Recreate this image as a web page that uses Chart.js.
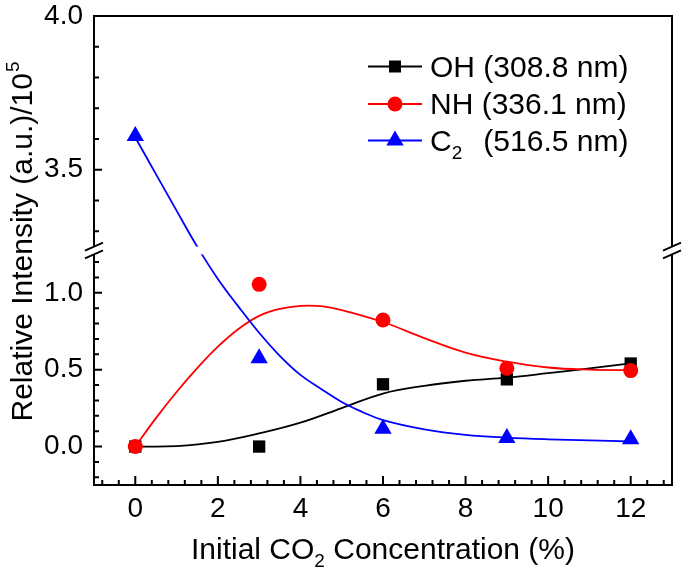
<!DOCTYPE html>
<html>
<head>
<meta charset="utf-8">
<script src="https://cdn.jsdelivr.net/npm/chart.js@4.4.1/dist/chart.umd.min.js"></script>
<style>
html,body{margin:0;padding:0;background:#fff;}
canvas{display:block;}
</style>
</head>
<body>
<canvas id="c" width="685" height="574"></canvas>
<script>
// ---- measured points ----
const concentrations = [0, 3, 6, 9, 12];
const ohValues = [0.00, 0.00, 0.405, 0.437, 0.540];
const nhValues = [0.00, 1.055, 0.823, 0.509, 0.494];
const c2Values = [3.61, 0.574, 0.115, 0.055, 0.048];

// ---- fitted curves ----
const ohCurveX = [0, 1, 2, 3, 4, 5, 6, 7, 8, 9, 10, 11, 12];
const ohCurve  = [0, 0.003, 0.030, 0.085, 0.155, 0.250, 0.345, 0.395, 0.428, 0.448, 0.477, 0.508, 0.541];
const nhCurveX = [0, 0.5, 1, 1.5, 2, 2.5, 3, 3.5, 4, 4.5, 5, 6, 7, 8, 9, 10, 11, 12];
const nhCurve  = [0, 0.185, 0.355, 0.510, 0.650, 0.765, 0.850, 0.895, 0.915, 0.913, 0.888, 0.810, 0.705, 0.611, 0.552, 0.514, 0.500, 0.497];
const c2CurveX = [0, 0.5, 1, 1.5, 2, 2.5, 3, 3.5, 4, 4.5, 5, 5.5, 6, 7, 8, 9, 10, 11, 12];
const c2Curve  = [3.605, 3.486, 3.367, 3.25, 1.09, 0.91, 0.74, 0.59, 0.466, 0.375, 0.29, 0.225, 0.172, 0.112, 0.076, 0.058, 0.047, 0.040, 0.033];

// ---- axes ----
const xTicks = [0, 2, 4, 6, 8, 10, 12];
const xTickLabels = ['0', '2', '4', '6', '8', '10', '12'];
const yTicks = [0.0, 0.5, 1.0, 3.5, 4.0];
const yTickLabels = ['0.0', '0.5', '1.0', '3.5', '4.0'];
const xMinorTicks = [-0.8, -0.4, 0.4, 0.8, 1.2, 1.6, 2.4, 2.8, 3.2, 3.6, 4.4, 4.8, 5.2, 5.6, 6.4, 6.8, 7.2, 7.6, 8.4, 8.8, 9.2, 9.6, 10.4, 10.8, 11.2, 11.6, 12.4, 12.8];
const yMinorTicks = [-0.2, -0.1, 0.1, 0.2, 0.3, 0.4, 0.6, 0.7, 0.8, 0.9, 1.1, 1.2, 3.3, 3.4, 3.6, 3.7, 3.8, 3.9];
const seriesNames = ['OH', 'NH', 'C'];
const seriesWaves = ['(308.8 nm)', '(336.1 nm)', '(516.5 nm)'];

// axis break
const BRK_LOW = 1.25, BRK_HIGH = 3.25, BRK_GAP = 0.05, BRK_FACTOR = 2;

const FONT = "'Liberation Sans', Arial, Helvetica, sans-serif";

class BrokenLinearScale extends Chart.LinearScale {
  toDisplay(v) {
    if (v <= BRK_LOW) return v;
    if (v >= BRK_HIGH) return BRK_LOW + BRK_GAP + (v - BRK_HIGH) * BRK_FACTOR;
    return BRK_LOW + (v - BRK_LOW) / (BRK_HIGH - BRK_LOW) * BRK_GAP;
  }
  fromDisplay(d) {
    if (d <= BRK_LOW) return d;
    if (d >= BRK_LOW + BRK_GAP) return BRK_HIGH + (d - BRK_LOW - BRK_GAP) / BRK_FACTOR;
    return BRK_LOW + (d - BRK_LOW) / BRK_GAP * (BRK_HIGH - BRK_LOW);
  }
  getPixelForValue(value) {
    if (value === null || value === undefined || Number.isNaN(value)) return NaN;
    const d0 = this.toDisplay(this.min), d1 = this.toDisplay(this.max);
    return this.getPixelForDecimal((this.toDisplay(value) - d0) / (d1 - d0));
  }
  getValueForPixel(pixel) {
    const d0 = this.toDisplay(this.min), d1 = this.toDisplay(this.max);
    return this.fromDisplay(d0 + this.getDecimalForPixel(pixel) * (d1 - d0));
  }
}
BrokenLinearScale.id = 'brokenLinear';
BrokenLinearScale.defaults = Chart.LinearScale.defaults;
Chart.register(BrokenLinearScale);

const pts = (xs, ys) => xs.map((x, i) => ({ x: x, y: ys[i] }));

const decor = {
  id: 'decor',
  beforeDraw(chart) {
    const ctx = chart.ctx;
    ctx.save();
    ctx.fillStyle = '#fff';
    ctx.fillRect(0, 0, chart.width, chart.height);
    ctx.restore();
  },
  afterDatasetsDraw(chart) {
    const { ctx, chartArea: a, scales } = chart;
    const x = scales.x, y = scales.y;
    const yHi = y.getPixelForValue(BRK_HIGH), yLo = y.getPixelForValue(BRK_LOW);
    ctx.save();
    ctx.fillStyle = '#fff';
    ctx.fillRect(a.left + 1, yHi, a.right - a.left - 2, yLo - yHi);
    ctx.strokeStyle = '#000';
    ctx.lineWidth = 2;
    ctx.lineJoin = 'miter';
    ctx.lineCap = 'butt';
    ctx.beginPath();
    ctx.moveTo(a.left, yHi); ctx.lineTo(a.left, a.top); ctx.lineTo(a.right, a.top); ctx.lineTo(a.right, yHi);
    ctx.moveTo(a.left, yLo); ctx.lineTo(a.left, a.bottom); ctx.lineTo(a.right, a.bottom); ctx.lineTo(a.right, yLo);
    ctx.stroke();
    ctx.beginPath();
    xTicks.forEach(v => { const px = x.getPixelForValue(v); ctx.moveTo(px, a.bottom); ctx.lineTo(px, a.bottom - 9); });
    xMinorTicks.forEach(v => { const px = x.getPixelForValue(v); ctx.moveTo(px, a.bottom); ctx.lineTo(px, a.bottom - 5); });
    yTicks.forEach(v => { const py = y.getPixelForValue(v); ctx.moveTo(a.left, py); ctx.lineTo(a.left + 8, py); });
    yMinorTicks.forEach(v => { const py = y.getPixelForValue(v); ctx.moveTo(a.left, py); ctx.lineTo(a.left + 5, py); });
    ctx.stroke();
    ctx.lineWidth = 1.8;
    ctx.beginPath();
    [a.left, a.right].forEach(ex => {
      [yHi, yLo].forEach(ey => { ctx.moveTo(ex - 9, ey + 4); ctx.lineTo(ex + 9, ey - 4); });
    });
    ctx.stroke();
    ctx.restore();
  },
  afterDraw(chart) {
    const { ctx, chartArea: a } = chart;
    ctx.save();
    ctx.fillStyle = '#000';
    ctx.textBaseline = 'alphabetic';
    ctx.textAlign = 'left';
    const big = '30px ' + FONT, small = '19px ' + FONT;
    // x title
    const p1 = 'Initial CO', p2 = '2', p3 = ' Concentration (%)';
    ctx.font = big; const w1 = ctx.measureText(p1).width, w3 = ctx.measureText(p3).width;
    ctx.font = small; const w2 = ctx.measureText(p2).width;
    const sx = (a.left + a.right) / 2 - (w1 + w2 + w3) / 2;
    const by = 559;
    ctx.font = big; ctx.fillText(p1, sx, by);
    ctx.font = small; ctx.fillText(p2, sx + w1, by + 8);
    ctx.font = big; ctx.fillText(p3, sx + w1 + w2, by);
    // y title
    const q1 = 'Relative Intensity (a.u.)/10', q2 = '5';
    ctx.font = big; const v1 = ctx.measureText(q1).width;
    ctx.font = small; const v2 = ctx.measureText(q2).width;
    ctx.save();
    ctx.translate(32, 242);
    ctx.rotate(-Math.PI / 2);
    const st = -(v1 + v2) / 2;
    ctx.font = big; ctx.fillText(q1, st, 0);
    ctx.font = small; ctx.fillText(q2, st + v1 + 1, -13);
    ctx.restore();
    // legend
    const colors = ['#000000', '#ff0000', '#0000ff'];
    const rowY = [66.5, 104, 140.5];
    const baseY = [76.5, 114, 150.5];
    for (let i = 0; i < 3; i++) {
      const cy = rowY[i], c = colors[i];
      ctx.strokeStyle = c; ctx.fillStyle = c; ctx.lineWidth = 1.8;
      ctx.beginPath(); ctx.moveTo(368, cy); ctx.lineTo(422, cy); ctx.stroke();
      ctx.beginPath();
      if (i === 0) { ctx.rect(395 - 6, cy - 6, 12, 12); }
      else if (i === 1) { ctx.arc(395, cy, 7.5, 0, Math.PI * 2); }
      else {
        const r = 10;
        ctx.moveTo(395, cy - r);
        ctx.lineTo(395 + r * Math.sin(2 * Math.PI / 3), cy - r * Math.cos(2 * Math.PI / 3));
        ctx.lineTo(395 + r * Math.sin(4 * Math.PI / 3), cy - r * Math.cos(4 * Math.PI / 3));
        ctx.closePath();
      }
      ctx.fill();
      ctx.fillStyle = '#000';
      ctx.font = big;
      if (i < 2) {
        ctx.fillText(seriesNames[i] + ' ' + seriesWaves[i], 430, baseY[i]);
      } else {
        ctx.fillText(seriesNames[i], 430, baseY[i]);
        const wc = ctx.measureText(seriesNames[i]).width;
        ctx.font = small; ctx.fillText('2', 430 + wc, baseY[i] + 8);
        ctx.font = big;
        const ww = ctx.measureText(seriesWaves[i]).width;
        const wref = ctx.measureText(seriesNames[0] + ' ' + seriesWaves[0]).width;
        ctx.fillText(seriesWaves[i], 430 + wref - ww, baseY[i]);
      }
    }
    ctx.restore();
  }
};

new Chart(document.getElementById('c'), {
  type: 'scatter',
  data: {
    datasets: [
      { label: 'C2 points', data: pts(concentrations, c2Values), pointStyle: 'triangle', pointRadius: 10, backgroundColor: '#0000ff', borderColor: '#0000ff', borderWidth: 0 },
      { label: 'NH points', data: pts(concentrations, nhValues), pointStyle: 'circle', pointRadius: 7.5, backgroundColor: '#ff0000', borderColor: '#ff0000', borderWidth: 0 },
      { label: 'OH points', data: pts(concentrations, ohValues), pointStyle: 'rect', pointRadius: 8.7, backgroundColor: '#000000', borderColor: '#000000', borderWidth: 0 },
      { label: 'C2 fit', data: pts(c2CurveX, c2Curve), showLine: true, pointRadius: 0, borderColor: '#0000ff', borderWidth: 1.8, tension: 0.4 },
      { label: 'NH fit', data: pts(nhCurveX, nhCurve), showLine: true, pointRadius: 0, borderColor: '#ff0000', borderWidth: 1.8, tension: 0.4 },
      { label: 'OH fit', data: pts(ohCurveX, ohCurve), showLine: true, pointRadius: 0, borderColor: '#000000', borderWidth: 1.8, tension: 0.4 }
    ]
  },
  options: {
    responsive: false,
    animation: false,
    events: [],
    layout: { padding: { top: 16, right: 13, left: 0, bottom: 0 } },
    plugins: { legend: { display: false }, tooltip: { enabled: false }, title: { display: false } },
    scales: {
      x: {
        type: 'linear', min: -1, max: 13, bounds: 'data',
        grid: { display: false, drawTicks: false }, border: { display: false },
        afterBuildTicks: s => { s.ticks = xTicks.map(v => ({ value: v })); },
        afterFit: s => { s.height = 89; s.paddingLeft = 0; s.paddingRight = 0; },
        ticks: { autoSkip: false, maxRotation: 0, padding: 7, color: '#000', font: { family: FONT, size: 28 }, callback: (v, i) => xTickLabels[i] }
      },
      y: {
        type: 'brokenLinear', min: -0.25, max: 4.0, bounds: 'data',
        grid: { display: false, drawTicks: false }, border: { display: false },
        afterBuildTicks: s => { s.ticks = yTicks.map(v => ({ value: v })); },
        afterFit: s => { s.width = 94; s.paddingTop = 0; s.paddingBottom = 0; },
        ticks: { autoSkip: false, padding: 11, color: '#000', font: { family: FONT, size: 28 }, callback: (v, i) => yTickLabels[i] }
      }
    }
  },
  plugins: [decor]
});
</script>
</body>
</html>
